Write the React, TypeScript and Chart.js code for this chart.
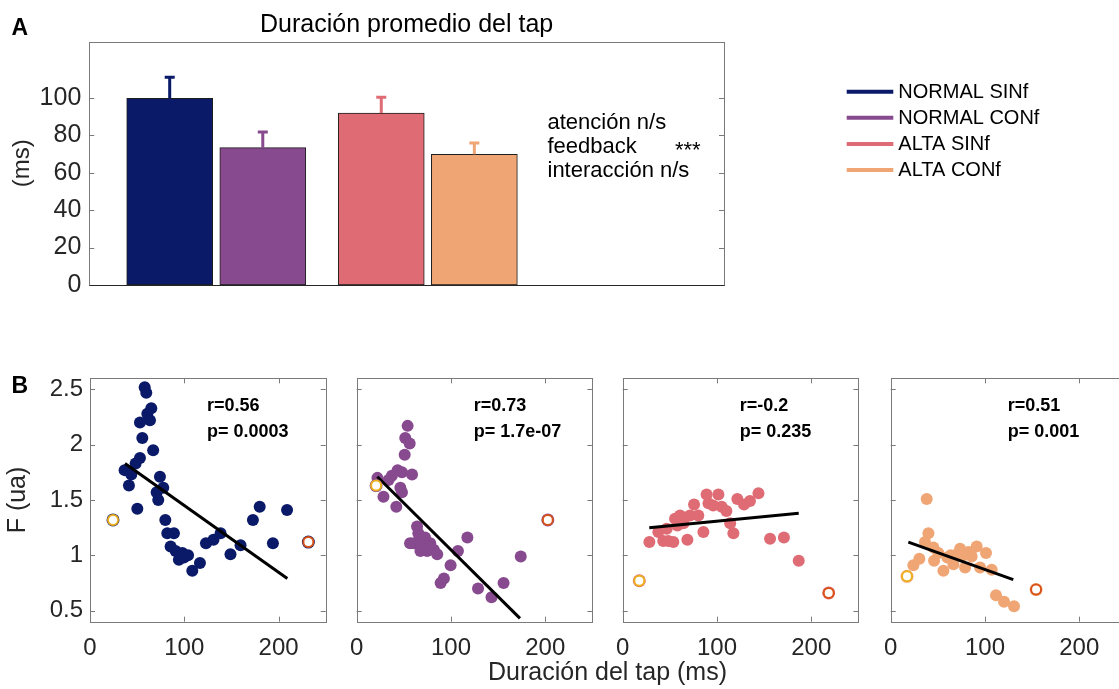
import React, { useEffect, useRef } from 'react';
import { Chart, registerables } from 'chart.js';

Chart.register(...registerables);

const FONT = "'Liberation Sans', Arial, Helvetica, sans-serif";
const TICK_COLOR = '#262626';
const BOX_COLOR = '#7a7a7a';
const CANVAS_W = 1140;

// ---------------- Panel A : bar chart data ----------------
const titleA = 'Duración promedio del tap';
const groupNames = ['NORMAL', 'ALTA'];
const seriesNames = ['NORMAL SINf', 'NORMAL CONf', 'ALTA SINf', 'ALTA CONf'];
const seriesGroup = [0, 0, 1, 1];
const seriesSide = [-1, 1, -1, 1];
const seriesColors = ['#0a1a68', '#874a8e', '#df6b74', '#f0a674'];
const meanDuration = [99.7, 73.4, 91.9, 69.8];
const errDuration = [11.3, 8.4, 8.4, 6.1];
const yTicksA = [0, 20, 40, 60, 80, 100];
const statsLabels = ['atención n/s', 'feedback', 'interacción n/s'];
const statsMarks = ['', '***', ''];

// ---------------- Panel B : scatter data ----------------
const p1X = [58, 59.7, 65, 60.8, 63.6, 53, 55.5, 67, 53, 48.4, 36.7, 43.8, 41.3, 74.2, 77.7, 70.7, 72.4, 50.2, 79.9, 82, 89, 85.5, 90.8, 98, 94.3, 99.6, 104, 108.5, 116.6, 123, 131, 138.5, 149, 159.7, 172.8, 180, 194, 209];
const p1Y = [2.52, 2.47, 2.33, 2.28, 2.22, 2.2, 2.06, 1.95, 1.88, 1.83, 1.77, 1.73, 1.63, 1.71, 1.61, 1.57, 1.5, 1.42, 1.32, 1.2, 1.2, 1.08, 1.04, 1.02, 0.96, 0.98, 1.0, 0.86, 0.93, 1.11, 1.14, 1.2, 1.01, 1.09, 1.32, 1.44, 1.11, 1.41];

const p2X = [54, 51.5, 56.2, 50.9, 43.4, 48, 58.7, 37.3, 33.8, 22, 46.3, 48, 28.4, 42, 64, 60.5, 67.6, 71, 74.7, 78, 81.8, 85.4, 67.6, 56.6, 65.4, 72.5, 107.4, 117.4, 99.6, 92.5, 89, 128.7, 143, 155.8, 174];
const p2Y = [2.17, 2.06, 2.01, 1.91, 1.77, 1.75, 1.73, 1.72, 1.68, 1.7, 1.61, 1.57, 1.53, 1.44, 1.26, 1.11, 1.13, 1.07, 1.04, 1.11, 1.05, 1.01, 1.04, 1.11, 1.2, 1.16, 1.04, 1.16, 0.91, 0.79, 0.75, 0.7, 0.62, 0.75, 0.99];

const p3X = [28.3, 37.8, 43, 48.4, 53.7, 46.7, 55.5, 60.8, 58, 64.4, 68.6, 71.4, 75.7, 80.2, 85.6, 89, 91, 96, 101.5, 105, 110, 114, 117.4, 121.6, 128.7, 135, 144, 156.3, 171, 186.7];
const p3Y = [1.12, 1.21, 1.13, 1.13, 1.12, 1.24, 1.33, 1.36, 1.27, 1.29, 1.14, 1.36, 1.46, 1.36, 1.21, 1.55, 1.47, 1.45, 1.55, 1.44, 1.4, 1.29, 1.2, 1.51, 1.46, 1.49, 1.56, 1.15, 1.16, 0.95];

const p4X = [38.2, 40, 36.4, 30.4, 24, 45.3, 50.6, 46, 55.9, 60.1, 63.6, 66.5, 68.2, 73.6, 77.1, 78.9, 82.4, 85.9, 91.2, 94.8, 101.1, 107.1, 111.7, 120.2, 130.8];
const p4Y = [1.51, 1.2, 1.12, 0.97, 0.91, 1.07, 1.02, 0.95, 0.86, 0.98, 1.0, 0.92, 1.0, 1.06, 1.0, 0.89, 1.03, 0.99, 1.08, 0.89, 1.02, 0.87, 0.64, 0.58, 0.54];

const panelX = [p1X, p2X, p3X, p4X];
const panelY = [p1Y, p2Y, p3Y, p4Y];

const outlierLowX = [24.4, 20.6, 17.6, 17.3];
const outlierLowY = [1.32, 1.63, 0.77, 0.81];
const outlierHighX = [231.6, 202.7, 218.5, 154.2];
const outlierHighY = [1.12, 1.32, 0.66, 0.69];

const fitStartX = [37.1, 21.9, 28.2, 18.7];
const fitStartY = [1.83, 1.71, 1.25, 1.12];
const fitEndX = [209.3, 173.2, 186.7, 130];
const fitEndY = [0.79, 0.43, 1.38, 0.78];

const rLabels = ['r=0.56', 'r=0.73', 'r=-0.2', 'r=0.51'];
const pLabels = ['p= 0.0003', 'p= 1.7e-07', 'p= 0.235', 'p= 0.001'];

const xTicksB = [0, 100, 200];
const yTicksB = [0.5, 1, 1.5, 2, 2.5];
const xLabelB = 'Duración del tap (ms)';
const yLabelB = 'F (ua)';

// ---------------- layout constants ----------------
const A_H = 312;
const A_LEFT = 89.3, A_RIGHT = 724, A_TOP = 41.7, A_BOTTOM = 285;
const B_TOP = 340, B_H = 349;
const panelLeft = [90, 356.7, 622.7, 890.7];
const PANEL_W = 235.7;
const B_AREA_TOP = 38.3, B_AREA_BOTTOM = 281.7;

// ---------------- plugins ----------------
const boxPlugin = {
  id: 'mbox',
  afterDatasetsDraw(chart: any, _args: any, opts: any) {
    const { ctx, chartArea: a, scales } = chart;
    const L = 5;
    ctx.save();
    ctx.strokeStyle = BOX_COLOR;
    ctx.lineWidth = 1;
    ctx.beginPath();
    (opts.yTicks || []).forEach((v: number) => {
      const y = Math.round(scales.y.getPixelForValue(v)) + 0.5;
      ctx.moveTo(a.left, y); ctx.lineTo(a.left + L, y);
      ctx.moveTo(a.right, y); ctx.lineTo(a.right - L, y);
    });
    (opts.xTicks || []).forEach((v: number) => {
      const x = Math.round(scales.x.getPixelForValue(v)) + 0.5;
      ctx.moveTo(x, a.bottom); ctx.lineTo(x, a.bottom - L);
      ctx.moveTo(x, a.top); ctx.lineTo(x, a.top + L);
    });
    ctx.stroke();
    const l = Math.round(a.left) + 0.5, t = Math.round(a.top) + 0.5;
    const r = Math.round(a.right) + 0.5, b = Math.round(a.bottom) + 0.5;
    ctx.strokeRect(l, t, r - l, b - t);
    if (opts.baseline) {
      ctx.strokeStyle = '#262626';
      ctx.beginPath();
      ctx.moveTo(l, b); ctx.lineTo(r, b);
      ctx.stroke();
    }
    ctx.restore();
  },
};

const errorBarPlugin = {
  id: 'errbars',
  afterDatasetsDraw(chart: any) {
    const { ctx, scales } = chart;
    ctx.save();
    chart.data.datasets.forEach((_ds: any, i: number) => {
      const el = chart.getDatasetMeta(i).data[0];
      if (!el) return;
      const x = el.x;
      const y0 = scales.y.getPixelForValue(meanDuration[i]);
      const y1 = scales.y.getPixelForValue(meanDuration[i] + errDuration[i]);
      ctx.strokeStyle = seriesColors[i];
      ctx.lineWidth = 3;
      ctx.beginPath();
      ctx.moveTo(x, y0); ctx.lineTo(x, y1);
      ctx.moveTo(x - 5, y1); ctx.lineTo(x + 5, y1);
      ctx.stroke();
    });
    ctx.restore();
  },
};

const textAPlugin = {
  id: 'textA',
  afterDraw(chart: any) {
    const { ctx, chartArea: a } = chart;
    ctx.save();
    ctx.fillStyle = '#000';
    ctx.textBaseline = 'alphabetic';
    ctx.textAlign = 'center';
    ctx.font = `25px ${FONT}`;
    ctx.fillText(titleA, (a.left + a.right) / 2, 31.5);
    ctx.textAlign = 'left';
    ctx.font = `bold 23px ${FONT}`;
    ctx.fillText('A', 11.5, 35);
    ctx.font = `22px ${FONT}`;
    statsLabels.forEach((s, i) => {
      const base = 128.5 + i * 24.3;
      ctx.fillText(s, 547.5, base);
      if (statsMarks[i]) ctx.fillText(statsMarks[i], 675, base + 4);
    });
    // legend
    ctx.font = `20px ${FONT}`;
    ctx.textBaseline = 'middle';
    seriesNames.forEach((name, i) => {
      const y = 91.7 + i * 26.1;
      ctx.strokeStyle = seriesColors[i];
      ctx.lineWidth = 4;
      ctx.beginPath();
      ctx.moveTo(846.7, y); ctx.lineTo(893.3, y);
      ctx.stroke();
      ctx.fillStyle = '#000';
      ctx.fillText(name, 898.3, y + 0.5);
    });
    ctx.restore();
  },
};

const textBPlugin = {
  id: 'textB',
  afterDraw(chart: any, _args: any, opts: any) {
    const { ctx, chartArea: a } = chart;
    const k = opts.panel;
    ctx.save();
    ctx.fillStyle = '#000';
    ctx.textAlign = 'left';
    ctx.textBaseline = 'alphabetic';
    ctx.font = `bold 18px ${FONT}`;
    ctx.fillText(rLabels[k], a.left + 117, 70.7);
    ctx.fillText(pLabels[k], a.left + 117, 96.7);
    if (k === 0) {
      ctx.font = `bold 23px ${FONT}`;
      ctx.fillText('B', 11.5, 53.3);
      ctx.font = `25px ${FONT}`;
      ctx.fillStyle = TICK_COLOR;
      ctx.textAlign = 'center';
      ctx.fillText(xLabelB, 607.5, 340);
    }
    ctx.restore();
  },
};

const noGrid = { display: false, drawTicks: false };

function makeBarChart(canvas: HTMLCanvasElement) {
  const groupPos = groupNames.map((_, g) => g + 1);
  const offset = 0.22;
  return new Chart(canvas, {
    type: 'bar',
    data: {
      datasets: seriesNames.map((name, i) => ({
        label: name,
        data: [{ x: groupPos[seriesGroup[i]] + seriesSide[i] * offset, y: meanDuration[i] }],
        backgroundColor: seriesColors[i],
        borderColor: '#1e1e1e',
        borderWidth: 1,
        borderSkipped: false,
        barThickness: 86,
        grouped: false,
      })),
    } as any,
    options: {
      responsive: false,
      animation: false,
      layout: { padding: { left: 0, right: CANVAS_W - A_RIGHT, top: A_TOP, bottom: 0 } },
      scales: {
        x: {
          type: 'linear', min: 0.4, max: 3.4, offset: false,
          afterFit: (s: any) => { s.height = A_H - A_BOTTOM; },
          grid: noGrid,
          border: { display: false },
          ticks: { display: false },
        },
        y: {
          type: 'linear',
          min: 0,
          max: 130,
          afterBuildTicks: (s: any) => { s.ticks = yTicksA.map((v) => ({ value: v })); },
          afterFit: (s: any) => { s.width = A_LEFT; },
          grid: noGrid,
          border: { display: false },
          ticks: { font: { size: 25, family: FONT }, color: TICK_COLOR, padding: 8, callback: (v: any) => String(v) },
          title: { display: true, text: '(ms)', font: { size: 24, family: FONT }, color: TICK_COLOR, padding: { top: 8, bottom: 0 } },
        },
      },
      plugins: {
        legend: { display: false },
        tooltip: { enabled: false },
        mbox: { yTicks: yTicksA, xTicks: [], baseline: true },
      } as any,
    } as any,
    plugins: [errorBarPlugin, boxPlugin, textAPlugin],
  });
}

function makeScatterChart(canvas: HTMLCanvasElement, k: number) {
  const color = seriesColors[k];
  const pts = panelX[k].map((x, i) => ({ x, y: panelY[k][i] }));
  const outl = [
    { x: outlierLowX[k], y: outlierLowY[k] },
    { x: outlierHighX[k], y: outlierHighY[k] },
  ];
  const yw = k === 0 ? panelLeft[0] : 0;
  return new Chart(canvas, {
    type: 'scatter',
    data: {
      datasets: [
        {
          data: [outl[0]], pointRadius: 5, pointBackgroundColor: '#fff', pointBorderColor: '#edb120', pointBorderWidth: 2, order: 0,
        },
        {
          data: [outl[1]], pointRadius: 5, pointBackgroundColor: '#fff', pointBorderColor: '#d95319', pointBorderWidth: 2, order: 0,
        },
        {
          data: outl, pointRadius: 6.5, pointBackgroundColor: color, pointBorderWidth: 0, order: 1,
        },
        {
          type: 'line',
          data: [{ x: fitStartX[k], y: fitStartY[k] }, { x: fitEndX[k], y: fitEndY[k] }],
          borderColor: '#000', borderWidth: 3, pointRadius: 0, showLine: true, fill: false, order: 2,
        },
        {
          data: pts, pointRadius: 6, pointBackgroundColor: color, pointBorderWidth: 0, order: 3,
        },
      ],
    } as any,
    options: {
      responsive: false,
      animation: false,
      layout: {
        padding: {
          left: panelLeft[k] - yw,
          right: CANVAS_W - (panelLeft[k] + PANEL_W),
          top: B_AREA_TOP,
          bottom: 0,
        },
      },
      scales: {
        x: {
          type: 'linear', min: 0, max: 250,
          afterBuildTicks: (s: any) => { s.ticks = xTicksB.map((v) => ({ value: v })); },
          afterFit: (s: any) => { s.height = B_H - B_AREA_BOTTOM; },
          grid: noGrid,
          border: { display: false },
          ticks: { font: { size: 24, family: FONT }, color: TICK_COLOR, padding: 12, maxRotation: 0, callback: (v: any) => String(v) },
        },
        y: {
          type: 'linear', min: 0.4, max: 2.6,
          display: k === 0,
          afterBuildTicks: (s: any) => { s.ticks = yTicksB.map((v) => ({ value: v })); },
          afterFit: (s: any) => { s.width = yw; },
          grid: noGrid,
          border: { display: false },
          ticks: { font: { size: 24, family: FONT }, color: TICK_COLOR, padding: 7, callback: (v: any) => String(v) },
          title: { display: true, text: yLabelB, font: { size: 25, family: FONT }, color: TICK_COLOR, padding: { top: 3, bottom: 0 } },
        },
      },
      plugins: {
        legend: { display: false },
        tooltip: { enabled: false },
        mbox: { yTicks: yTicksB, xTicks: xTicksB },
        textB: { panel: k },
      } as any,
    } as any,
    plugins: [boxPlugin, textBPlugin],
  });
}

export default function App() {
  const aRef = useRef<HTMLCanvasElement>(null);
  const b0 = useRef<HTMLCanvasElement>(null);
  const b1 = useRef<HTMLCanvasElement>(null);
  const b2 = useRef<HTMLCanvasElement>(null);
  const b3 = useRef<HTMLCanvasElement>(null);
  const bRefs = [b0, b1, b2, b3];

  useEffect(() => {
    const charts: Chart[] = [];
    if (aRef.current) charts.push(makeBarChart(aRef.current));
    bRefs.forEach((r, k) => {
      if (r.current) charts.push(makeScatterChart(r.current, k));
    });
    return () => charts.forEach((c) => c.destroy());
  }, []);

  return (
    <div style={{ position: 'absolute', left: 0, top: 0, width: 1119, height: 689, overflow: 'hidden', background: '#fff' }}>
      <canvas ref={aRef} width={CANVAS_W} height={A_H} style={{ position: 'absolute', left: 0, top: 0, width: CANVAS_W, height: A_H }} />
      {bRefs.map((r, k) => (
        <canvas key={k} ref={r} width={CANVAS_W} height={B_H} style={{ position: 'absolute', left: 0, top: B_TOP, width: CANVAS_W, height: B_H }} />
      ))}
    </div>
  );
}
